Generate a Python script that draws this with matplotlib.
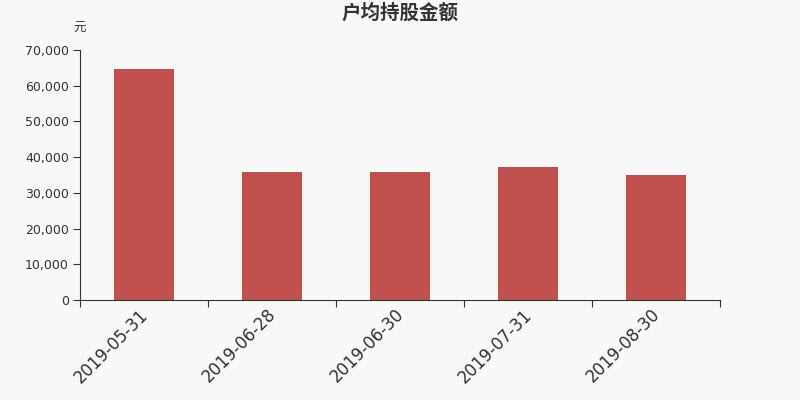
import matplotlib
matplotlib.use("Agg")
import matplotlib.pyplot as plt
from matplotlib.ticker import FuncFormatter, FixedLocator

plt.rcParams['font.family'] = ['DejaVu Sans', 'Noto Sans CJK SC']

dates = ['2019-05-31', '2019-06-28', '2019-06-30', '2019-07-31', '2019-08-30']
values = [64700, 35900, 35900, 37150, 35000]

fig = plt.figure(figsize=(8, 4), dpi=100, facecolor='#f8f8f8')
ax = fig.add_axes([0.1, 0.25, 0.8, 0.625])
ax.set_facecolor('#f8f8f8')

x = list(range(len(dates)))
ax.bar(x, values, width=0.47, color='#c0504d', zorder=2)

ax.set_xlim(-0.5, len(dates) - 0.5)
ax.set_ylim(0, 70000)
ax.set_yticks(range(0, 70001, 10000))
ax.yaxis.set_major_formatter(FuncFormatter(lambda v, p: f'{int(v):,}'))

# category boundaries get the tick marks, labels sit (slightly left of) bar centres
ax.xaxis.set_major_locator(FixedLocator([i - 0.5 for i in range(len(dates) + 1)]))
ax.xaxis.set_minor_locator(FixedLocator([i - 0.04 for i in x]))
ax.set_xticklabels([])
ax.set_xticklabels(dates, minor=True, rotation=45, ha='right', rotation_mode='anchor',
                   fontsize=12, color='#333333')
ax.tick_params(axis='x', which='minor', length=0, pad=4)
ax.tick_params(axis='x', which='major', length=5, color='#333333')
ax.tick_params(axis='y', length=5, color='#333333', labelsize=9, labelcolor='#333333', pad=3)

for s in ['top', 'right']:
    ax.spines[s].set_visible(False)
for s in ['left', 'bottom']:
    ax.spines[s].set_color('#333333')

fig.text(0.5, 0.967, '户均持股金额', ha='center', va='center', fontsize=14,
         fontweight='bold', color='#333333', family='Noto Sans CJK SC')
fig.text(0.1, 0.928, '元', ha='center', va='center', fontsize=9, color='#333333',
         family='Noto Sans CJK SC')

fig.savefig('out.png', dpi=100, facecolor=fig.get_facecolor())
